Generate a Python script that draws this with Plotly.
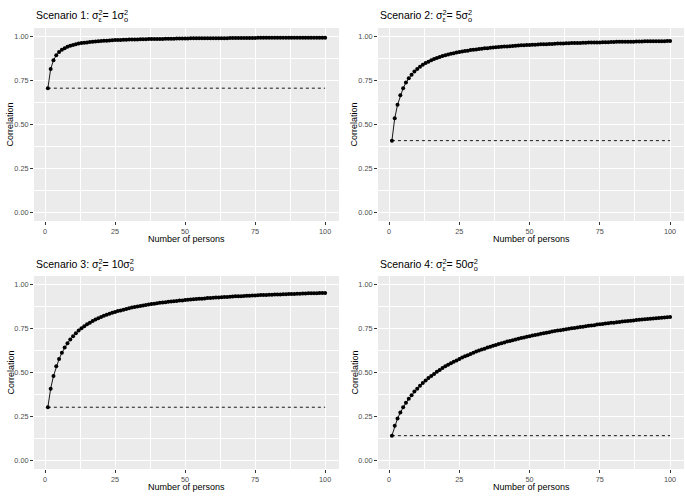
import plotly.graph_objects as go

W, H = 685, 496

persons = list(range(1, 101))
x_ticks = [0, 25, 50, 75, 100]
y_ticks = [0.00, 0.25, 0.50, 0.75, 1.00]
y_tick_labels = ["0.00", "0.25", "0.50", "0.75", "1.00"]

scenario_labels = ["Scenario 1: ", "Scenario 2: ", "Scenario 3: ", "Scenario 4: "]
ratio_labels = ["1", "5", "10", "50"]

s1 = [0.707, 0.816, 0.866, 0.894, 0.913, 0.926, 0.935, 0.943, 0.949, 0.953,
      0.957, 0.961, 0.964, 0.966, 0.968, 0.970, 0.972, 0.973, 0.975, 0.976,
      0.977, 0.978, 0.979, 0.980, 0.981, 0.981, 0.982, 0.983, 0.983, 0.984,
      0.984, 0.985, 0.985, 0.986, 0.986, 0.986, 0.987, 0.987, 0.987, 0.988,
      0.988, 0.988, 0.989, 0.989, 0.989, 0.989, 0.990, 0.990, 0.990, 0.990,
      0.990, 0.991, 0.991, 0.991, 0.991, 0.991, 0.991, 0.992, 0.992, 0.992,
      0.992, 0.992, 0.992, 0.992, 0.992, 0.993, 0.993, 0.993, 0.993, 0.993,
      0.993, 0.993, 0.993, 0.993, 0.993, 0.994, 0.994, 0.994, 0.994, 0.994,
      0.994, 0.994, 0.994, 0.994, 0.994, 0.994, 0.994, 0.994, 0.994, 0.995,
      0.995, 0.995, 0.995, 0.995, 0.995, 0.995, 0.995, 0.995, 0.995, 0.995]

s2 = [0.408, 0.535, 0.612, 0.667, 0.707, 0.739, 0.764, 0.784, 0.802, 0.816,
      0.829, 0.840, 0.850, 0.858, 0.866, 0.873, 0.879, 0.885, 0.890, 0.894,
      0.899, 0.903, 0.906, 0.910, 0.913, 0.916, 0.919, 0.921, 0.924, 0.926,
      0.928, 0.930, 0.932, 0.934, 0.935, 0.937, 0.939, 0.940, 0.941, 0.943,
      0.944, 0.945, 0.946, 0.948, 0.949, 0.950, 0.951, 0.952, 0.953, 0.953,
      0.954, 0.955, 0.956, 0.957, 0.957, 0.958, 0.959, 0.959, 0.960, 0.961,
      0.961, 0.962, 0.963, 0.963, 0.964, 0.964, 0.965, 0.965, 0.966, 0.966,
      0.967, 0.967, 0.967, 0.968, 0.968, 0.969, 0.969, 0.969, 0.970, 0.970,
      0.971, 0.971, 0.971, 0.972, 0.972, 0.972, 0.972, 0.973, 0.973, 0.973,
      0.974, 0.974, 0.974, 0.974, 0.975, 0.975, 0.975, 0.975, 0.976, 0.976]

s3 = [0.302, 0.408, 0.480, 0.535, 0.577, 0.612, 0.642, 0.667, 0.688, 0.707,
      0.724, 0.739, 0.752, 0.764, 0.775, 0.784, 0.794, 0.802, 0.809, 0.816,
      0.823, 0.829, 0.835, 0.840, 0.845, 0.850, 0.854, 0.858, 0.862, 0.866,
      0.870, 0.873, 0.876, 0.879, 0.882, 0.885, 0.887, 0.890, 0.892, 0.894,
      0.897, 0.899, 0.901, 0.903, 0.905, 0.906, 0.908, 0.910, 0.911, 0.913,
      0.914, 0.916, 0.917, 0.919, 0.920, 0.921, 0.922, 0.924, 0.925, 0.926,
      0.927, 0.928, 0.929, 0.930, 0.931, 0.932, 0.933, 0.934, 0.935, 0.935,
      0.936, 0.937, 0.938, 0.939, 0.939, 0.940, 0.941, 0.941, 0.942, 0.943,
      0.943, 0.944, 0.945, 0.945, 0.946, 0.946, 0.947, 0.948, 0.948, 0.949,
      0.949, 0.950, 0.950, 0.951, 0.951, 0.952, 0.952, 0.953, 0.953, 0.953]

s4 = [0.140, 0.196, 0.238, 0.272, 0.302, 0.327, 0.350, 0.371, 0.391, 0.408,
      0.425, 0.440, 0.454, 0.468, 0.480, 0.492, 0.504, 0.514, 0.525, 0.535,
      0.544, 0.553, 0.561, 0.569, 0.577, 0.585, 0.592, 0.599, 0.606, 0.612,
      0.619, 0.625, 0.631, 0.636, 0.642, 0.647, 0.652, 0.657, 0.662, 0.667,
      0.671, 0.676, 0.680, 0.684, 0.688, 0.692, 0.696, 0.700, 0.704, 0.707,
      0.711, 0.714, 0.717, 0.721, 0.724, 0.727, 0.730, 0.733, 0.736, 0.739,
      0.741, 0.744, 0.747, 0.749, 0.752, 0.754, 0.757, 0.759, 0.761, 0.764,
      0.766, 0.768, 0.770, 0.773, 0.775, 0.777, 0.779, 0.781, 0.783, 0.784,
      0.786, 0.788, 0.790, 0.792, 0.794, 0.795, 0.797, 0.799, 0.800, 0.802,
      0.803, 0.805, 0.806, 0.808, 0.809, 0.811, 0.812, 0.814, 0.815, 0.816]

series = [s1, s2, s3, s4]

FONT = "Liberation Sans, Arial, sans-serif"

# panel pixel boxes (left, right, top, bottom)
cols = [(34, 339), (378, 684)]
rows = [(28, 221), (276, 469)]


def px_x(p):
    return p / W


def px_y(p):
    return 1 - p / H


fig = go.Figure()
annotations = []
T0 = '<span style="color:rgba(0,0,0,0)">'
T1 = '</span>'

for i, ys in enumerate(series):
    r, c = divmod(i, 2)
    n = i + 1
    xa = "x" if n == 1 else f"x{n}"
    ya = "y" if n == 1 else f"y{n}"
    # dashed reference line at the single-person correlation
    fig.add_trace(go.Scatter(
        x=[persons[0], persons[-1]], y=[ys[0], ys[0]], mode="lines",
        line=dict(color="black", width=0.9, dash="3px,3px"),
        xaxis=xa, yaxis=ya, showlegend=False, hoverinfo="skip"))
    fig.add_trace(go.Scatter(
        x=persons, y=ys, mode="lines+markers",
        line=dict(color="black", width=0.9),
        marker=dict(color="black", size=4),
        xaxis=xa, yaxis=ya, showlegend=False))

    l, rgt = cols[c]
    t, b = rows[r]
    common = dict(
        showgrid=True, gridcolor="white", gridwidth=1,
        zeroline=False, showline=False,
        ticks="outside", ticklen=3, tickwidth=1, tickcolor="#333333",
        tickfont=dict(family=FONT, size=7.3, color="#4D4D4D"),
    )
    fig.update_layout(**{
        ("xaxis" if n == 1 else f"xaxis{n}"): dict(
            domain=[px_x(l), px_x(rgt)], anchor=ya,
            range=[-3.95, 104.95], tickvals=x_ticks,
            ticktext=[str(v) for v in x_ticks],
            minor=dict(showgrid=True, gridcolor="white", gridwidth=0.5,
                       tickvals=[12.5, 37.5, 62.5, 87.5]),
            **common),
        ("yaxis" if n == 1 else f"yaxis{n}"): dict(
            domain=[px_y(b), px_y(t)], anchor=xa,
            range=[-0.05, 1.05], tickvals=y_ticks, ticktext=y_tick_labels,
            minor=dict(showgrid=True, gridcolor="white", gridwidth=0.5,
                       tickvals=[0.125, 0.375, 0.625, 0.875]),
            **common),
    })

    # axis titles
    annotations.append(dict(
        text="Number of persons", x=px_x((l + rgt) / 2), y=px_y(b + 18),
        xref="paper", yref="paper", xanchor="center", yanchor="middle",
        showarrow=False, font=dict(family=FONT, size=9, color="black")))
    annotations.append(dict(
        text="Correlation", x=px_x(l - 24), y=px_y((t + b) / 2),
        xref="paper", yref="paper", xanchor="center", yanchor="middle",
        textangle=-90, showarrow=False,
        font=dict(family=FONT, size=9, color="black")))

    # panel title with stacked super/subscripts, built from three layers
    pre = scenario_labels[i] + "σ"
    mid = "= " + ratio_labels[i] + "σ"
    layers = [
        pre + "<sup>2</sup>" + mid + "<sup>2</sup>" + T0 + "<sub>o</sub>" + T1,
        T0 + pre + T1 + "<sub>ε</sub>" + T0 + "<sup>2</sup>" + T1,
        T0 + pre + "<sup>2</sup>" + mid + T1 + "<sub>o</sub>",
    ]
    for txt in layers:
        annotations.append(dict(
            text=txt, x=px_x(l), y=px_y(t - 11.5), xref="paper", yref="paper",
            xanchor="left", yanchor="middle", showarrow=False,
            font=dict(family=FONT, size=10.5, color="black")))

fig.update_layout(
    template="none",
    width=W, height=H, margin=dict(l=0, r=0, t=0, b=0),
    paper_bgcolor="white", plot_bgcolor="#EBEBEB",
    annotations=annotations, showlegend=False,
)

fig.write_html(
    "out.html",
    config={"displayModeBar": False},
    post_script="document.body.style.margin='0';document.body.style.overflow='hidden';",
)
